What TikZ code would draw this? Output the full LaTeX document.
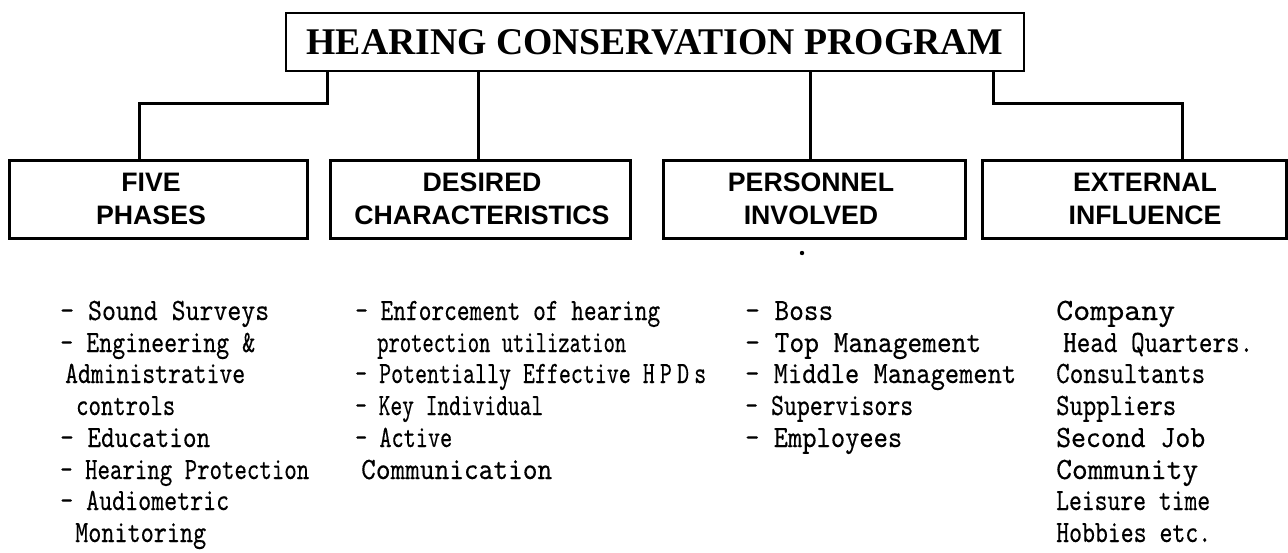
\documentclass[tikz,border=0pt]{standalone}
\usepackage{graphicx}
\usepackage{fontspec}
\setmainfont{Liberation Serif}
\newfontfamily\headfont{Liberation Sans}
\newfontfamily\bodyfont{lmmono10-regular.otf}[FakeBold=0.35]
\newcommand{\fitw}[2]{\resizebox{#1pt}{\height}{#2}}
\begin{document}
\begin{tikzpicture}[x=1pt,y=-1pt,
  topbox/.style={draw, line width=2.6pt, minimum width=738pt, minimum height=58pt, inner sep=0pt,
    font=\bfseries\fontsize{37.7}{40}\selectfont},
  catbox/.style={draw, line width=3pt, minimum height=78pt, inner sep=0pt},
  cattext/.style={font=\headfont\bfseries\fontsize{26.7}{33}\selectfont, align=center, inner sep=0pt},
  itm/.style={anchor=base west, inner sep=0pt, font=\bodyfont\fontsize{31}{32}\selectfont},
  conn/.style={line width=3pt}]
\useasboundingbox (0,0) rectangle (1288,552);

\node[topbox] (top) at (655,42) {HEARING CONSERVATION PROGRAM};

\node[catbox, minimum width=298pt] (five) at (158,199) {};
\node[catbox, minimum width=300pt] (desired) at (480,199) {};
\node[catbox, minimum width=302pt] (personnel) at (814,199) {};
\node[catbox, minimum width=304pt] (external) at (1134,199) {};

\node[cattext] (fivet) at (151,199) {FIVE\\PHASES};
\node[cattext] (desiredt) at (482,199) {DESIRED\\CHARACTERISTICS};
\node[cattext] (personnelt) at (811,199) {PERSONNEL\\INVOLVED};
\node[cattext] (externalt) at (1145,199) {EXTERNAL\\INFLUENCE};

\coordinate (k1) at (327,103); \coordinate (j1) at (139,103);
\draw[conn] (k1 |- top.south) -- (k1) -- (j1) -- (j1 |- five.north);
\coordinate (k2) at (478,103);
\draw[conn] (k2 |- top.south) -- (k2 |- desired.north);
\coordinate (k3) at (810,103);
\draw[conn] (k3 |- top.south) -- (k3 |- personnel.north);
\coordinate (k4) at (993,103); \coordinate (j4) at (1182,103);
\draw[conn] (k4 |- top.south) -- (k4) -- (j4) -- (j4 |- external.north);

\fill (802,253) circle (2.2pt);

\node[itm] (c1a) at (60,320) {\fitw{209}{- Sound Surveys}};
\node[itm] (c1b) at (60,352) {\fitw{195}{- Engineering \&}};
\node[itm] (c1c) at (65,383) {\fitw{180}{Administrative}};
\node[itm] (c1d) at (76,415) {\fitw{99}{controls}};
\node[itm] (c1e) at (60,447) {\fitw{150}{- Education}};
\node[itm] (c1f) at (60,479) {\fitw{249}{- Hearing Protection}};
\node[itm] (c1g) at (60,510) {\fitw{169}{- Audiometric}};
\node[itm] (c1h) at (75,542) {\fitw{131}{Monitoring}};

\node[itm] (c2a) at (355,320) {\fitw{305}{- Enforcement of hearing}};
\node[itm] (c2b) at (377,352) {\fitw{249}{protection utilization}};
\node[itm] (c2c) at (355,383) {\fitw{351}{- Potentially Effective H\kern7pt P\kern7pt D\kern7pt s}};
\node[itm] (c2d) at (355,415) {\fitw{188}{- Key Individual}};
\node[itm] (c2e) at (355,447) {\fitw{97}{- Active}};
\node[itm] (c2f) at (361,479) {\fitw{191}{Communication}};

\node[itm] (c3a) at (745,320) {\fitw{88}{- Boss}};
\node[itm] (c3b) at (745,352) {\fitw{236}{- Top Management}};
\node[itm] (c3c) at (745,383) {\fitw{271}{- Middle Management}};
\node[itm] (c3d) at (745,415) {\fitw{168}{- Supervisors}};
\node[itm] (c3e) at (745,447) {\fitw{157}{- Employees}};

\node[itm] (c4a) at (1056,320) {\fitw{119}{Company}};
\node[itm] (c4b) at (1063,352) {\fitw{190}{Head Quarters.}};
\node[itm] (c4c) at (1056,383) {\fitw{149}{Consultants}};
\node[itm] (c4d) at (1056,415) {\fitw{120}{Suppliers}};
\node[itm] (c4e) at (1056,447) {\fitw{149}{Second Job}};
\node[itm] (c4f) at (1056,479) {\fitw{142}{Community}};
\node[itm] (c4g) at (1056,510) {\fitw{154}{Leisure time}};
\node[itm] (c4h) at (1056,542) {\fitw{155}{Hobbies etc.}};
\end{tikzpicture}
\end{document}
